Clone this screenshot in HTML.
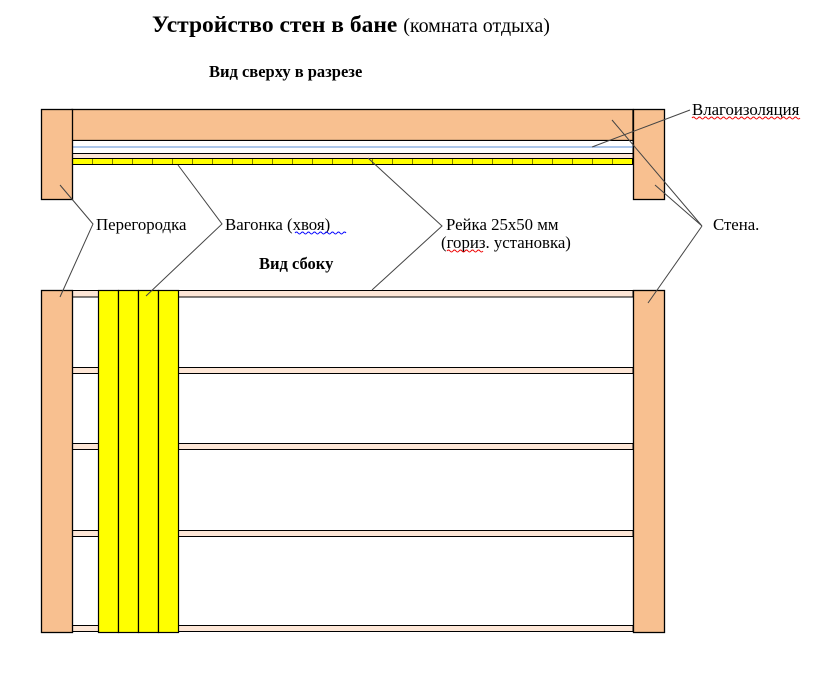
<!DOCTYPE html>
<html><head><meta charset="utf-8"><style>
html,body{margin:0;padding:0;background:#fff;width:821px;height:690px;overflow:hidden}
text{font-family:"Liberation Serif",serif;fill:#000}
</style></head><body>
<svg width="821" height="690" viewBox="0 0 821 690" xmlns="http://www.w3.org/2000/svg">
<defs>
<pattern id="yp" x="72" y="0" width="20" height="690" patternUnits="userSpaceOnUse">
<rect x="0" y="0" width="20" height="690" fill="#ffff00"/>
<line x1="0" y1="0" x2="0" y2="690" stroke="#000" stroke-width="1"/>
</pattern>
</defs>
<text x="152" y="32" font-size="23.5" font-weight="bold">Устройство стен в бане <tspan font-weight="normal" font-size="20">(комната отдыха)</tspan></text>
<text x="209" y="77" font-size="16.5" font-weight="bold">Вид сверху в разрезе</text>

<!-- top view -->
<rect x="72" y="109.5" width="561" height="31" fill="#f8c090" stroke="#000" stroke-width="1.3"/>
<rect x="72" y="140.5" width="561" height="13" fill="#fff" stroke="#000" stroke-width="1"/>
<line x1="72" y1="147" x2="633" y2="147" stroke="#5b8fd6" stroke-width="1"/>
<rect x="72" y="153.5" width="561" height="5" fill="#fde6d6" stroke="#000" stroke-width="1"/>
<rect x="72" y="158.5" width="561" height="6" fill="url(#yp)" stroke="#000" stroke-width="1"/>
<rect x="41.5" y="109.5" width="31" height="90" fill="#f8c090" stroke="#000" stroke-width="1.3"/>
<rect x="633.5" y="109.5" width="31" height="90" fill="#f8c090" stroke="#000" stroke-width="1.3"/>

<!-- side view -->
<g stroke="#000" stroke-width="1" fill="#fde6d6">
<rect x="72" y="290.5" width="561" height="6.5"/>
<rect x="72" y="367.5" width="561" height="6"/>
<rect x="72" y="443.5" width="561" height="6"/>
<rect x="72" y="530.5" width="561" height="6"/>
<rect x="72" y="625.5" width="561" height="6"/>
</g>
<g stroke="#000" stroke-width="1.2" fill="#ffff00">
<rect x="98.5" y="290.5" width="20" height="342"/>
<rect x="118.5" y="290.5" width="20" height="342"/>
<rect x="138.5" y="290.5" width="20" height="342"/>
<rect x="158.5" y="290.5" width="20" height="342"/>
</g>
<rect x="41.5" y="290.5" width="31" height="342" fill="#f8c090" stroke="#000" stroke-width="1.3"/>
<rect x="633.5" y="290.5" width="31" height="342" fill="#f8c090" stroke="#000" stroke-width="1.3"/>

<!-- leaders -->
<g stroke="#444" stroke-width="1" fill="none">
<polyline points="60,185 93,224 60,297"/>
<polyline points="178,165 222,224 146,296"/>
<polyline points="368,158 442,226 372,290"/>
<line x1="690" y1="110" x2="592" y2="147"/>
<polyline points="612,120 702,226 655,185"/>
<line x1="702" y1="226" x2="648" y2="303"/>
</g>

<g font-size="16.8">
<text x="96" y="230">Перегородка</text>
<text x="225" y="230">Вагонка (хвоя)</text>
<text x="446" y="230">Рейка 25х50 мм</text>
<text x="441" y="248">(гориз. установка)</text>
<text x="713" y="230">Стена.</text>
<text x="692" y="115">Влагоизоляция</text>
</g>
<text x="259" y="269" font-size="16.5" font-weight="bold">Вид сбоку</text>
<!-- spellcheck squiggles -->
<g fill="none" stroke-width="1">
<path d="M295,233 q1.5,-2 3,0 t3,0 t3,0 t3,0 t3,0 t3,0 t3,0 t3,0 t3,0 t3,0 t3,0 t3,0 t3,0 t3,0 t3,0 t3,0 t3,0" stroke="#0000ff"/>
<path d="M447,251 q1.5,-2 3,0 t3,0 t3,0 t3,0 t3,0 t3,0 t3,0 t3,0 t3,0 t3,0 t3,0 t3,0" stroke="#e00"/>
<path d="M692,118 q1.5,-2 3,0 t3,0 t3,0 t3,0 t3,0 t3,0 t3,0 t3,0 t3,0 t3,0 t3,0 t3,0 t3,0 t3,0 t3,0 t3,0 t3,0 t3,0 t3,0 t3,0 t3,0 t3,0 t3,0 t3,0 t3,0 t3,0 t3,0 t3,0 t3,0 t3,0 t3,0 t3,0 t3,0 t3,0 t3,0 t3,0" stroke="#e00"/>
</g>
</svg>
</body></html>
